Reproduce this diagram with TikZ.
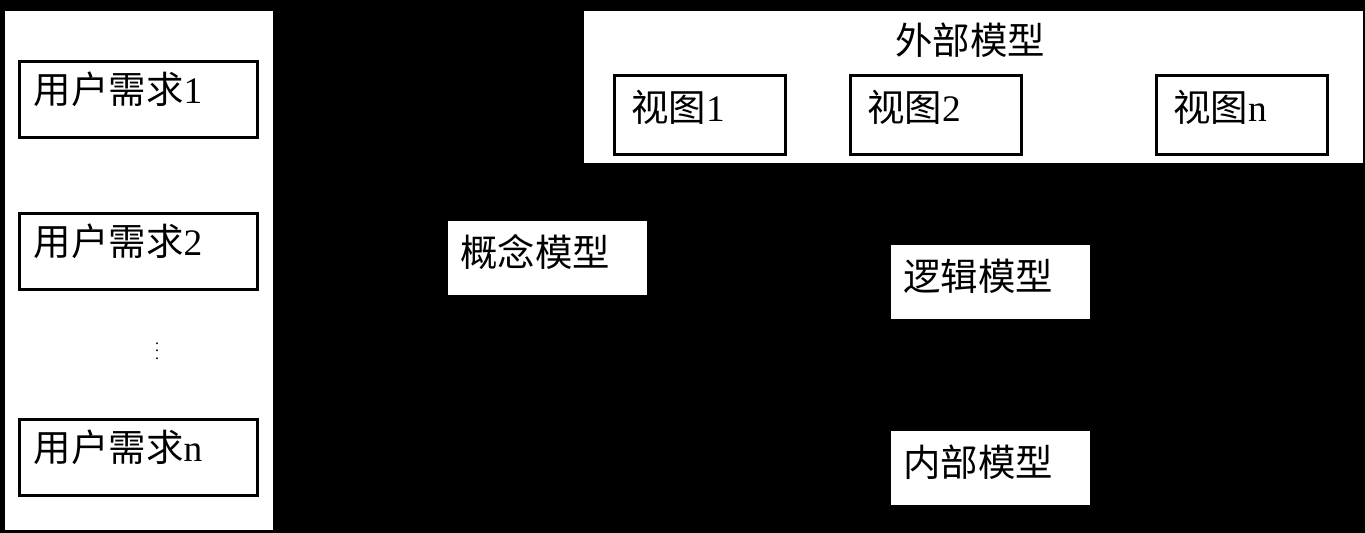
\documentclass[tikz,border=0pt]{standalone}
\usepackage{fontspec}
\setmainfont{Liberation Serif}
\newfontfamily\cjk{Noto Sans CJK SC}
\usepackage{tikz}
\usetikzlibrary{positioning}
\tikzset{
  panel/.style={draw=black, fill=white, line width=1.5pt, inner sep=0pt, anchor=north west},
  reqbox/.style={draw=black, fill=white, line width=1.5pt, anchor=north west, align=left,
    text width=4.18cm, inner xsep=0.29cm, inner ysep=0pt, text height=0.85cm, text depth=0.67cm,
    font=\fontsize{21.3}{24}\selectfont},
  viewbox/.style={draw=black, fill=white, line width=1.5pt, anchor=north west, align=left,
    text width=2.74cm, inner xsep=0.34cm, inner ysep=0pt, text height=0.93cm, text depth=0.65cm,
    font=\fontsize{21.3}{24}\selectfont},
  modelbox/.style={draw=black, fill=white, line width=1.5pt, anchor=north west, align=left,
    text width=3.48cm, inner xsep=0.28cm, inner ysep=0pt, text height=0.95cm, text depth=0.59cm,
    font=\fontsize{21.3}{24}\selectfont}
}
\begin{document}
\begin{tikzpicture}[x=0.02cm,y=-0.02cm]
  \fill[black] (0,0) rectangle (1365,533);
  \useasboundingbox (0,0) rectangle (1365,533);
  % user requirements
  \node[panel, minimum width=5.42cm, minimum height=10.44cm] (userside) at (2,8) {};
  \foreach \i/\y in {1/60,2/212,n/418}{
    \node[reqbox] (req\i) at (18,\y) {{\cjk 用户需求}\i};
  }
  \node[font=\fontsize{9}{9}\selectfont] (reqdots) at (157,346) {$\vdots$};
  % external model
  \node[panel, minimum width=15.64cm, minimum height=3.1cm] (extside) at (581,8) {};
  \node[font=\fontsize{21.3}{24}\selectfont] (extname) at (970,40) {\cjk 外部模型};
  \foreach \i/\x in {1/613,2/849,n/1155}{
    \node[viewbox] (view\i) at (\x,74) {{\cjk 视图}\i};
  }
  % models
  \node[modelbox] (concept) at (445,218) {\cjk 概念模型};
  \node[modelbox] (logic) at (888,242) {\cjk 逻辑模型};
  \node[modelbox] (inner) at (888,428) {\cjk 内部模型};
\end{tikzpicture}
\end{document}
